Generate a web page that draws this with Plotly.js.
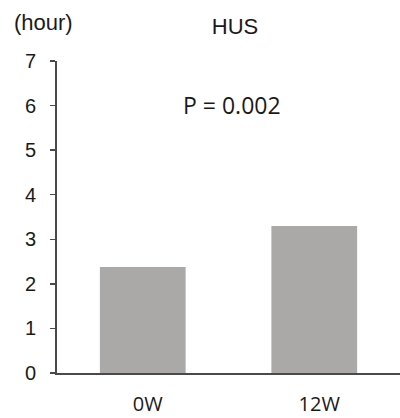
<!DOCTYPE html>
<html>
<head>
<meta charset="utf-8">
<script src="https://cdn.plot.ly/plotly-3.0.1.min.js"></script>
<style>html,body{margin:0;padding:0;background:#fff;}#chart{width:400px;height:418px;}</style>
</head>
<body>
<div id="chart"></div>
<script>
const categories = ['0W', '12W'];
const hours = [2.38, 3.30];
const yTicks = [0, 1, 2, 3, 4, 5, 6, 7];
const chartTitle = 'HUS';
const unitLabel = '(hour)';
const pLabel = 'P = 0.002';

const axisColor = '#4a4a4a';

Plotly.newPlot('chart', [{
  type: 'bar',
  x: categories,
  y: hours,
  width: 0.5,
  marker: {color: '#aba8a8'},
  hoverinfo: 'skip'
}], {
  width: 400,
  height: 418,
  margin: {l: 57, r: 0, t: 61, b: 45},
  paper_bgcolor: '#fff',
  plot_bgcolor: '#fff',
  showlegend: false,
  title: {
    text: chartTitle,
    x: 0.5875, xanchor: 'center',
    y: 0.938, yanchor: 'middle',
    font: {family: 'Liberation Sans, Arial', size: 22, color: '#1a1a1a'}
  },
  xaxis: {
    type: 'category',
    range: [-0.5, 1.5],
    showline: true,
    linecolor: axisColor,
    linewidth: 2,
    ticks: '',
    showgrid: false,
    zeroline: false,
    ticklabelstandoff: 12,
    ticklabelshift: 5,
    tickfont: {family: 'Open Sans', size: 20, color: '#1a1a1a'}
  },
  yaxis: {
    range: [0, 7],
    tickvals: yTicks,
    showline: true,
    linecolor: axisColor,
    linewidth: 2,
    ticks: 'outside',
    ticklen: 5,
    tickwidth: 1.5,
    tickcolor: axisColor,
    showgrid: false,
    zeroline: false,
    ticklabelstandoff: 10,
    tickfont: {family: 'Liberation Sans, Arial', size: 20, color: '#1a1a1a'}
  },
  annotations: [
    {
      text: unitLabel, xref: 'paper', yref: 'paper',
      x: -0.131, xanchor: 'left', y: 1.122, yanchor: 'middle',
      showarrow: false,
      font: {family: 'Liberation Sans, Arial', size: 22, color: '#1a1a1a'}
    },
    {
      text: pLabel, xref: 'paper', yref: 'paper',
      x: 0.51, xanchor: 'center', y: 0.859, yanchor: 'middle',
      showarrow: false,
      font: {family: 'Open Sans', size: 23, color: '#1a1a1a'}
    }
  ]
}, {displayModeBar: false, staticPlot: true});
</script>
</body>
</html>
